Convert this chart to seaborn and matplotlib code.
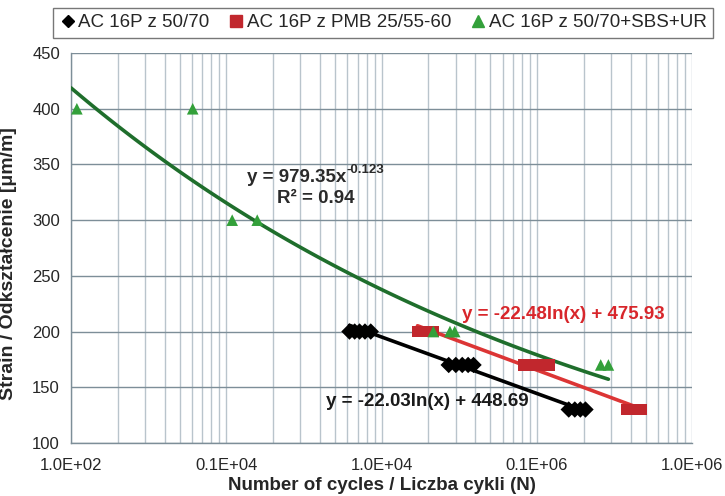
import numpy as np
import pandas as pd
import matplotlib
matplotlib.use("Agg")
import matplotlib.pyplot as plt
from matplotlib.ticker import FixedLocator, LogLocator, NullFormatter
import seaborn as sns

# data (cycles, strain in um/m)
ac_5070_n = [62000, 67000, 72000, 78000, 85000,
             270000, 300000, 330000, 360000, 390000,
             1600000, 1750000, 1900000, 2050000]
ac_5070_eps = [200, 200, 200, 200, 200,
               170, 170, 170, 170, 170,
               130, 130, 130, 130]

ac_pmb_n = [170000, 185000, 200000, 215000,
            820000, 900000, 1000000, 1100000, 1200000,
            3800000, 4200000, 4700000]
ac_pmb_eps = [200, 200, 200, 200,
              170, 170, 170, 170, 170,
              130, 130, 130]

ac_sbs_n = [1090, 6070, 10900, 15800, 215000, 275000, 295000, 2570000, 2880000]
ac_sbs_eps = [400, 400, 300, 300, 200, 200, 200, 170, 170]

series_names = ["AC 16P z 50/70", "AC 16P z PMB 25/55-60", "AC 16P z 50/70+SBS+UR"]
x_ticks = [1e3, 1e4, 1e5, 1e6, 1e7]
x_tick_labels = ["1.0E+02", "0.1E+04", "1.0E+04", "0.1E+06", "1.0E+06"]
y_ticks = [100, 150, 200, 250, 300, 350, 400, 450]

# trendline coefficients printed on the chart
black_fit = (-22.03, 448.69)
red_fit = (-22.48, 475.93)
green_fit = (979.35, -0.123)

colors = {series_names[0]: "black", series_names[1]: "#c1272d", series_names[2]: "#33a03a"}
line_colors = {series_names[0]: "black", series_names[1]: "#dc3535", series_names[2]: "#1f6e2c"}
markers = {series_names[0]: "D", series_names[1]: "s", series_names[2]: "^"}

df = pd.concat([
    pd.DataFrame({"N": ac_5070_n, "strain": ac_5070_eps, "mix": series_names[0]}),
    pd.DataFrame({"N": ac_pmb_n, "strain": ac_pmb_eps, "mix": series_names[1]}),
    pd.DataFrame({"N": ac_sbs_n, "strain": ac_sbs_eps, "mix": series_names[2]}),
], ignore_index=True)

sns.set_style("white")
plt.rcParams["font.family"] = ["Liberation Sans", "DejaVu Sans"]

fig = plt.figure(figsize=(7.25, 4.96), dpi=100)
ax = fig.add_axes([0.098, 0.107, 0.857, 0.786])

# trendlines
fits = []
for name, nn in zip(series_names, [ac_5070_n, ac_pmb_n, ac_sbs_n]):
    xs = np.logspace(np.log10(min(nn)), np.log10(max(nn)), 100)
    if name == series_names[0]:
        ys = black_fit[0] * np.log(xs) + black_fit[1]
    elif name == series_names[1]:
        ys = red_fit[0] * np.log(xs) + red_fit[1]
    else:
        xs = np.logspace(3, np.log10(max(nn)), 100)
        ys = green_fit[0] * xs ** green_fit[1]
    fits.append(pd.DataFrame({"N": xs, "strain": ys, "mix": name}))
fit_df = pd.concat(fits, ignore_index=True)
sns.lineplot(data=fit_df, x="N", y="strain", hue="mix", palette=line_colors,
             linewidth=2.6, legend=False, ax=ax, zorder=3)

sns.scatterplot(data=df, x="N", y="strain", hue="mix", style="mix",
                palette=colors, markers=markers, s=70, edgecolor="none",
                legend=False, ax=ax, zorder=4)

ax.set_xscale("log")
ax.set_xlim(1e3, 1e7)
ax.set_ylim(100, 450)
ax.xaxis.set_major_locator(FixedLocator(x_ticks))
ax.set_xticklabels(x_tick_labels)
ax.xaxis.set_minor_locator(LogLocator(base=10, subs=np.arange(2, 10)))
ax.xaxis.set_minor_formatter(NullFormatter())
ax.set_yticks(y_ticks)

ax.grid(True, which="major", axis="y", color="#7d8e98", linewidth=1.0)
ax.grid(True, which="both", axis="x", color="#b9c4cc", linewidth=1.0)
ax.set_axisbelow(True)
for side in ["top", "right"]:
    ax.spines[side].set_visible(False)
for side in ["left", "bottom"]:
    ax.spines[side].set_color("#7d8e98")
    ax.spines[side].set_linewidth(1.0)
ax.tick_params(axis="both", which="major", direction="out", length=5, width=1,
               color="#7d8e98", labelsize=12, pad=3)
ax.tick_params(axis="x", which="minor", direction="out", length=3, width=1, color="#7d8e98")
ax.tick_params(axis="x", which="major", pad=6)

ax.set_xlabel("Number of cycles / Liczba cykli (N)", fontsize=13.5, fontweight="bold", labelpad=3)
ax.set_ylabel("Strain / Odkształcenie [μm/m]", fontsize=14, fontweight="bold")
ax.yaxis.set_label_coords(-0.087, 0.46)

# equation labels
t1 = ax.text(13650, 338, "y = 979.35x", fontsize=13.5, fontweight="bold",
             color="#2a2a2a", ha="left", va="center")
ax.annotate("-0.123", xy=(1, 0.95), xycoords=t1, fontsize=9.5, fontweight="bold",
            color="#2a2a2a", ha="left", va="center")
ax.text(21200, 319, "R² = 0.94", fontsize=13.5, fontweight="bold",
        color="#2a2a2a", ha="left", va="center")
ax.text(1.47e6, 215, "y = -22.48ln(x) + 475.93", fontsize=13.5, fontweight="bold",
        color="#d8262b", ha="center", va="center")
ax.text(1.97e5, 137, "y = -22.03ln(x) + 448.69", fontsize=13.5, fontweight="bold",
        color="#1a1a1a", ha="center", va="center")

# legend above the plot
handles = [plt.Line2D([], [], linestyle="none", marker=markers[n], color=colors[n],
                      markersize=8 if markers[n] != "D" else 6) for n in series_names]
leg = fig.legend(handles, series_names, loc="center", bbox_to_anchor=(0.528, 0.954),
                 ncol=3, frameon=True, fancybox=False, fontsize=13.5,
                 handletextpad=0.1, columnspacing=1.0, borderpad=0.35,
                 borderaxespad=0.0, handlelength=0.9)
leg.get_frame().set_edgecolor("#555555")
leg.get_frame().set_linewidth(1.0)

fig.savefig("out.png", dpi=100)
